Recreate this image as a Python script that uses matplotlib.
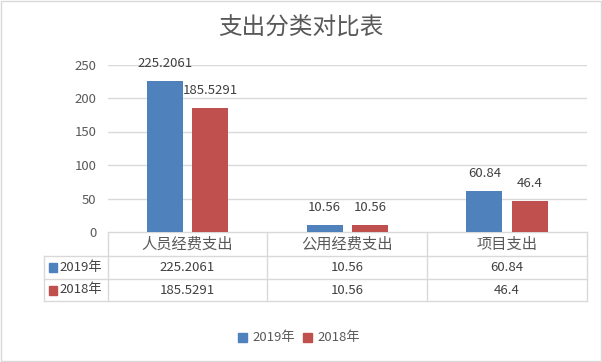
import matplotlib.pyplot as plt
import numpy as np

# data
categories = ['人员经费支出', '公用经费支出', '项目支出']
series_names = ['2019年', '2018年']
values_2019 = [225.2061, 10.56, 60.84]
values_2018 = [185.5291, 10.56, 46.4]
labels_2019 = ['225.2061', '10.56', '60.84']
labels_2018 = ['185.5291', '10.56', '46.4']
yticks = [0, 50, 100, 150, 200, 250]

plt.rcParams['font.family'] = ['Noto Sans CJK SC', 'DejaVu Sans']

W, H = 602, 362
blue = '#4F81BD'
red = '#C0504D'
txt = '#595959'
grid = '#D9D9D9'

fig = plt.figure(figsize=(W / 100, H / 100), dpi=100)

# overlay in pixel coords for the frame, table and legend
ov = fig.add_axes([0, 0, 1, 1])
ov.set_xlim(0, W)
ov.set_ylim(H, 0)
ov.axis('off')

# main plot area
x0, x1, ytop, ybot = 107.5, 587, 64.5, 232
ax = fig.add_axes([x0 / W, 1 - ybot / H, (x1 - x0) / W, (ybot - ytop) / H])
x = np.arange(len(categories))
w = 0.225
b1 = ax.bar(x - 0.142, values_2019, w, color=blue)
b2 = ax.bar(x + 0.142, values_2018, w, color=red)
ax.bar_label(b1, labels=labels_2019, padding=8, fontsize=9.5, color='#404040')
ax.bar_label(b2, labels=labels_2018, padding=8, fontsize=9.5, color='#404040')
ax.set_xlim(-0.5, len(categories) - 0.5)
ax.set_ylim(0, 250)
ax.set_yticks(yticks)
ax.set_yticklabels([str(t) for t in yticks], fontsize=9.5, color=txt)
ax.tick_params(axis='y', length=0, pad=8)
ax.set_xticks([])
ax.yaxis.grid(True, color=grid, linewidth=1)
ax.set_axisbelow(True)
for s in ax.spines.values():
    s.set_visible(False)

# chart border
ov.add_patch(plt.Rectangle((0.5, 0.5), W - 1.5, H - 1.5, fill=False,
                           edgecolor=grid, linewidth=1))

# title
ov.text(W / 2, 28, '支出分类对比表', ha='center', va='center',
        fontsize=17, color=txt)

# data table
cols = [107.5, 267, 427, 587]
rows = [232, 256, 279, 301]
tl = 43.5
lc = '#D9D9D9'
ov.plot([x0, x1], [rows[0], rows[0]], color=lc, lw=1)
for r in rows[1:]:
    ov.plot([tl, x1], [r, r], color=lc, lw=1)
for c in cols:
    ov.plot([c, c], [rows[0], rows[-1]], color=lc, lw=1)
ov.plot([tl, tl], [rows[1], rows[-1]], color=lc, lw=1)

for i, cat in enumerate(categories):
    cx = (cols[i] + cols[i + 1]) / 2
    ov.text(cx, (rows[0] + rows[1]) / 2, cat, ha='center', va='center',
            fontsize=11, color=txt)
    ov.text(cx, (rows[1] + rows[2]) / 2, labels_2019[i], ha='center',
            va='center', fontsize=9.5, color='#404040')
    ov.text(cx, (rows[2] + rows[3]) / 2, labels_2018[i], ha='center',
            va='center', fontsize=9.5, color='#404040')

for j, (name, col) in enumerate(zip(series_names, [blue, red])):
    cy = (rows[j + 1] + rows[j + 2]) / 2
    ov.add_patch(plt.Rectangle((49, cy - 4.5), 8, 9, color=col))
    ov.text(59, cy, name, ha='left', va='center', fontsize=9.5, color='#404040')

# legend
ly = 337
for name, col, px in zip(series_names, [blue, red], [238, 303]):
    ov.add_patch(plt.Rectangle((px, ly - 4.5), 9, 9, color=col))
    ov.text(px + 14, ly, name, ha='left', va='center', fontsize=9.5, color=txt)

fig.savefig('out.png', dpi=100)
